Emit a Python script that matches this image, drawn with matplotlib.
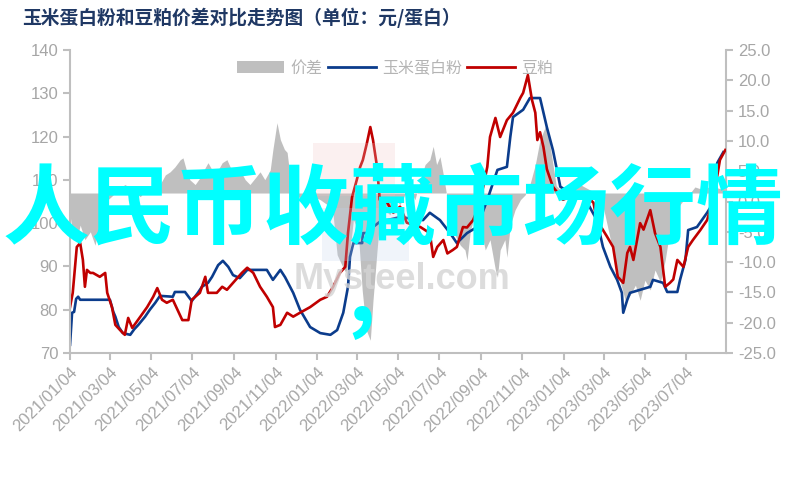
"""
玉米蛋白粉和豆粕价差对比走势图 — recreated with matplotlib.
Run: python plot.py
"""

import pandas as pd
import matplotlib.pyplot as plt
import matplotlib.dates as mdates
from matplotlib.patches import Patch, Rectangle
from matplotlib.lines import Line2D
from matplotlib.ticker import FormatStrFormatter, MultipleLocator

CJK = ["Noto Sans CJK SC", "DejaVu Sans"]
NUM = ["Liberation Sans Narrow", "Liberation Sans", "DejaVu Sans"]

plt.rcParams.update({
    "font.family": NUM,
    "axes.spines.top": False,
})

# 玉米蛋白粉 (left axis)
CORN_DATES = [
    "2021-01-04", "2021-01-07", "2021-01-10", "2021-01-13", "2021-01-16", "2021-01-19",
    "2021-03-04", "2021-03-09", "2021-03-12", "2021-03-17", "2021-03-23", "2021-04-03",
    "2021-04-09", "2021-04-15", "2021-04-25", "2021-05-02", "2021-05-10", "2021-05-17",
    "2021-06-05", "2021-06-08", "2021-06-23", "2021-07-03", "2021-07-12", "2021-07-18",
    "2021-07-27", "2021-08-02", "2021-08-11", "2021-08-18", "2021-08-26", "2021-09-02",
    "2021-09-12", "2021-09-23", "2021-10-22", "2021-10-31", "2021-11-11", "2021-11-18",
    "2021-11-30", "2021-12-10", "2021-12-25", "2022-01-09", "2022-01-24", "2022-02-03",
    "2022-02-12", "2022-02-19", "2022-02-22", "2022-02-27", "2022-03-12", "2022-03-13",
    "2022-03-24", "2022-03-28", "2022-04-07", "2022-05-07", "2022-06-10", "2022-06-20",
    "2022-07-05", "2022-07-20", "2022-07-30", "2022-08-14", "2022-08-29", "2022-09-13",
    "2022-09-28", "2022-10-12", "2022-10-17", "2022-10-21", "2022-11-05", "2022-11-15",
    "2022-11-30", "2022-12-10", "2022-12-19", "2022-12-30", "2023-01-14", "2023-01-28",
    "2023-02-08", "2023-02-22", "2023-03-03", "2023-03-14", "2023-03-24", "2023-03-31",
    "2023-04-02", "2023-04-08", "2023-04-12", "2023-05-12", "2023-05-16", "2023-05-31",
    "2023-06-06", "2023-06-21", "2023-06-25", "2023-07-03", "2023-07-07", "2023-07-20",
    "2023-08-04", "2023-08-13", "2023-08-19", "2023-08-28",
]
CORN_PRICE = [
    71.9, 79.3, 79.5, 82.5, 83.0, 82.3,
    82.3, 79.5, 78.4, 76.0, 74.6, 74.2,
    75.5, 76.5, 78.4, 80.0, 81.6, 83.2,
    83.0, 84.1, 84.1, 82.0, 83.9, 85.3,
    86.2, 87.6, 90.3, 91.3, 89.9, 88.0,
    87.3, 89.2, 89.2, 86.9, 89.2, 87.5,
    83.9, 80.0, 76.0, 74.6, 74.2, 75.3,
    79.3, 85.3, 92.2, 95.4, 95.4, 97.7,
    97.7, 99.1, 100.3, 101.4, 100.7, 102.4,
    100.7, 97.7, 95.4, 97.7, 99.1, 105.4,
    112.3, 113.0, 119.9, 124.5, 126.2, 128.9,
    128.9, 122.2, 116.9, 108.4, 107.0, 107.0,
    104.7, 100.7, 94.5, 89.9, 86.9, 83.9,
    79.3, 82.3, 83.9, 85.3, 86.9, 86.2,
    84.1, 84.1, 86.9, 91.5, 98.4, 99.1,
    102.4, 104.7, 113.9, 116.4,
]

# 豆粕 (left axis)
MEAL_DATES = [
    "2021-01-04", "2021-01-08", "2021-01-14", "2021-01-19", "2021-01-23", "2021-01-26",
    "2021-01-29", "2021-02-03", "2021-02-07", "2021-02-17", "2021-02-25", "2021-02-28",
    "2021-03-07", "2021-03-12", "2021-03-19", "2021-03-26", "2021-03-31", "2021-04-06",
    "2021-04-18", "2021-04-28", "2021-05-07", "2021-05-13", "2021-05-20", "2021-05-27",
    "2021-06-05", "2021-06-19", "2021-06-28", "2021-07-03", "2021-07-15", "2021-07-23",
    "2021-07-27", "2021-08-09", "2021-08-17", "2021-08-24", "2021-09-02", "2021-09-15",
    "2021-09-23", "2021-10-02", "2021-10-12", "2021-10-22", "2021-10-31", "2021-11-03",
    "2021-11-11", "2021-11-21", "2021-11-30", "2021-12-10", "2021-12-25", "2022-01-09",
    "2022-01-19", "2022-01-28", "2022-02-07", "2022-02-15", "2022-02-19", "2022-02-25",
    "2022-03-04", "2022-03-09", "2022-03-13", "2022-03-19", "2022-03-24", "2022-03-28",
    "2022-04-03", "2022-04-07", "2022-04-18", "2022-04-27", "2022-05-07", "2022-05-17",
    "2022-06-06", "2022-06-20", "2022-06-25", "2022-07-01", "2022-07-10", "2022-07-16",
    "2022-07-24", "2022-07-30", "2022-08-08", "2022-08-14", "2022-08-23", "2022-08-29",
    "2022-09-07", "2022-09-13", "2022-09-17", "2022-09-25", "2022-10-02", "2022-10-12",
    "2022-10-21", "2022-11-01", "2022-11-05", "2022-11-12", "2022-11-18", "2022-11-23",
    "2022-11-26", "2022-11-30", "2022-12-05", "2022-12-10", "2022-12-19", "2023-01-03",
    "2023-01-18", "2023-02-02", "2023-02-17", "2023-02-22", "2023-03-09", "2023-03-18",
    "2023-03-25", "2023-04-02", "2023-04-08", "2023-04-12", "2023-04-17", "2023-04-27",
    "2023-05-02", "2023-05-12", "2023-05-19", "2023-05-27", "2023-06-03", "2023-06-10",
    "2023-06-15", "2023-06-21", "2023-06-30", "2023-07-07", "2023-07-14", "2023-07-25",
    "2023-08-04", "2023-08-13", "2023-08-23", "2023-08-31",
]
MEAL_PRICE = [
    80.6, 83.9, 94.5, 95.4, 91.5, 85.3,
    89.2, 88.5, 88.5, 87.6, 88.5, 83.9,
    80.6, 76.5, 75.3, 74.2, 78.1, 75.8,
    78.4, 80.6, 83.0, 85.0, 82.3, 81.6,
    82.3, 77.6, 77.6, 82.3, 83.9, 87.6,
    83.9, 83.9, 85.3, 84.6, 86.2, 88.5,
    89.7, 88.5, 85.3, 83.0, 80.6, 76.0,
    76.5, 79.3, 78.4, 79.3, 80.6, 82.3,
    83.0, 85.3, 88.5, 89.9, 97.7, 106.0,
    110.0, 113.0, 114.6, 118.5, 122.2, 119.2,
    113.0, 105.4, 104.7, 102.4, 103.8, 100.1,
    99.1, 97.7, 92.2, 94.5, 96.1, 93.0,
    93.8, 94.5, 99.1, 99.0, 100.7, 103.0,
    108.4, 113.0, 119.9, 124.3, 119.9, 123.8,
    125.5, 129.0, 130.1, 134.2, 128.5, 125.5,
    119.2, 121.0, 117.6, 112.5, 108.4, 105.4,
    106.5, 107.0, 104.7, 100.7, 96.9, 94.5,
    87.6, 86.2, 93.1, 94.5, 91.5, 100.0,
    98.5, 103.0, 97.7, 94.5, 85.3, 86.2,
    87.0, 91.5, 89.9, 94.5, 96.1, 98.4,
    100.7, 105.4, 114.6, 116.9,
]

# 价差 (right axis)
SPREAD_DATES = [
    "2021-01-04", "2021-01-08", "2021-01-14", "2021-01-19", "2021-01-26", "2021-02-03",
    "2021-02-10", "2021-02-17", "2021-02-25", "2021-03-01", "2021-03-07", "2021-03-16",
    "2021-03-26", "2021-04-03", "2021-04-10", "2021-04-18", "2021-04-25", "2021-05-02",
    "2021-05-10", "2021-05-17", "2021-05-25", "2021-06-01", "2021-06-08", "2021-06-16",
    "2021-06-20", "2021-06-25", "2021-06-30", "2021-07-08", "2021-07-15", "2021-07-23",
    "2021-07-27", "2021-08-02", "2021-08-11", "2021-08-17", "2021-08-24", "2021-09-01",
    "2021-09-08", "2021-09-12", "2021-09-20", "2021-09-27", "2021-10-05", "2021-10-12",
    "2021-10-19", "2021-10-27", "2021-10-31", "2021-11-06", "2021-11-11", "2021-11-17",
    "2021-11-21", "2021-11-25", "2021-11-30", "2021-12-10", "2021-12-25", "2022-01-09",
    "2022-01-19", "2022-01-28", "2022-02-03", "2022-02-10", "2022-02-16", "2022-02-22",
    "2022-02-27", "2022-03-06", "2022-03-12", "2022-03-18", "2022-03-24", "2022-03-28",
    "2022-04-03", "2022-04-07", "2022-04-15", "2022-04-22", "2022-04-30", "2022-05-07",
    "2022-05-14", "2022-05-22", "2022-05-29", "2022-06-06", "2022-06-13", "2022-06-20",
    "2022-06-25", "2022-06-30", "2022-07-05", "2022-07-10", "2022-07-16", "2022-07-20",
    "2022-07-27", "2022-08-04", "2022-08-11", "2022-08-14", "2022-08-19", "2022-08-26",
    "2022-09-02", "2022-09-10", "2022-09-17", "2022-09-25", "2022-09-28", "2022-10-02",
    "2022-10-09", "2022-10-12", "2022-10-17", "2022-10-24", "2022-11-01", "2022-11-08",
    "2022-11-15", "2022-11-23", "2022-11-30", "2022-12-08", "2022-12-12", "2022-12-18",
    "2022-12-24", "2022-12-30", "2023-01-14", "2023-01-28", "2023-02-12", "2023-02-27",
    "2023-03-06", "2023-03-14", "2023-03-21", "2023-03-28", "2023-04-05", "2023-04-12",
    "2023-04-20", "2023-04-27", "2023-05-04", "2023-05-12", "2023-05-19", "2023-05-27",
    "2023-06-03", "2023-06-10", "2023-06-18", "2023-06-25", "2023-07-03", "2023-07-10",
    "2023-07-17", "2023-07-25", "2023-08-01", "2023-08-09", "2023-08-16", "2023-08-23",
    "2023-08-31",
]
SPREAD = [
    -2.2, -5.5, -6.3, -3.9, -6.3, -5.0,
    -7.2, -3.4, -2.2, 0.3, 0.9, 1.9,
    2.8, 2.3, 1.4, 0.8, 1.9, 2.3,
    1.6, 2.8, 4.4, 4.9, 5.7, 6.9,
    7.2, 5.2, 3.6, 2.8, 3.9, 5.6,
    6.4, 5.2, 5.2, 6.4, 6.9, 4.9,
    4.4, 5.2, 3.6, 2.8, 3.9, 4.9,
    3.6, 5.2, 8.6, 13.0, 10.2, 8.6,
    8.1, 4.4, 1.4, 0.6, 1.1, 0.3,
    -0.5, -2.2, -8.8, -10.5, -11.8, -8.0,
    -3.0, -4.7, -14.6, -21.2, -22.9, -16.3,
    -8.0, -3.0, -1.4, -2.2, 0.3, -0.5,
    1.1, 1.9, 0.3, 3.6, 6.1, 6.9,
    9.1, 6.1, 7.4, 4.4, 0.3, -3.0,
    -5.5, -7.2, -8.0, -9.7, -4.7, -2.2,
    -3.9, -8.0, -6.3, -11.3, -12.5, -8.0,
    -6.3, -9.2, -3.9, -1.4, 0.3, 1.1,
    2.8, 6.1, 10.2, 12.4, 11.0, 6.9,
    2.6, 1.9, 2.3, 2.8, 1.9, 1.1,
    -2.2, -6.3, -9.7, -13.0, -16.3, -15.5,
    -13.8, -16.3, -13.0, -14.6, -11.3, -13.3,
    -9.7, -4.7, -2.2, -0.5, 0.6, 1.4,
    2.4, 2.1, 2.6, 2.1, 2.4, 2.1,
    2.8,
]
SPREAD_FLOOR = 1.4  # area is filled from here, as in the source chart

X_START, X_END = "2021-01-04", "2023-09-01"

AXIS_GREY = "#bfbfbf"
LABEL_GREY = "#a6a6a6"
BLUE = "#0b3c8c"
RED = "#c00000"
AREA = "#bfbfbf"

fig = plt.figure(figsize=(7.86, 4.78), dpi=100)
ax = fig.add_axes([0.0891, 0.2615, 0.8346, 0.6339])
ax2 = ax.twinx()
ax.set_zorder(ax2.get_zorder() + 1)
ax.patch.set_visible(False)

spread_x = pd.to_datetime(SPREAD_DATES)
ax2.fill_between(spread_x, SPREAD, SPREAD_FLOOR, color=AREA, linewidth=0)
ax.plot(pd.to_datetime(CORN_DATES), CORN_PRICE, color=BLUE, linewidth=1.9)
ax.plot(pd.to_datetime(MEAL_DATES), MEAL_PRICE, color=RED, linewidth=1.9)

ax.set_xlim(pd.Timestamp(X_START), pd.Timestamp(X_END))
ax.set_ylim(70, 140)
ax2.set_ylim(-25, 25)
ax.yaxis.set_major_locator(MultipleLocator(10))
ax2.yaxis.set_major_locator(MultipleLocator(5))
ax2.yaxis.set_major_formatter(FormatStrFormatter("%.1f"))
ax.xaxis.set_major_locator(mdates.MonthLocator(bymonth=[1, 3, 5, 7, 9, 11], bymonthday=4))
ax.xaxis.set_major_formatter(mdates.DateFormatter("%Y/%m/%d"))
# last label in the source is 2023/07/04
ax.set_xticks([t for t in ax.get_xticks() if t <= mdates.date2num(pd.Timestamp("2023-07-04"))])

for a in (ax, ax2):
    for side in ("left", "right", "bottom"):
        a.spines[side].set_color(AXIS_GREY)
        a.spines[side].set_linewidth(1.5)
    a.spines["top"].set_visible(False)
    a.tick_params(colors=AXIS_GREY, labelcolor=LABEL_GREY, width=1.5, length=5,
                  labelsize=12, direction="out")
ax.spines["right"].set_visible(False)
ax2.spines["left"].set_visible(False)
ax2.spines["bottom"].set_visible(False)

for lbl in ax.get_xticklabels():
    lbl.set_rotation(45)
    lbl.set_ha("right")
    lbl.set_rotation_mode("anchor")

handles = [
    Patch(facecolor=AREA, edgecolor="none"),
    Line2D([], [], color=BLUE, linewidth=2),
    Line2D([], [], color=RED, linewidth=2),
]
leg = ax.legend(handles, ["价差", "玉米蛋白粉", "豆粕"], loc="center",
                bbox_to_anchor=(0.495, 0.94), ncol=3, frameon=False,
                handlelength=3.0, handleheight=0.7, handletextpad=0.4,
                columnspacing=0.3, prop={"family": CJK, "size": 11.5})
for t in leg.get_texts():
    t.set_color("#b4b4b4")

fig.text(0.028, 0.962, "玉米蛋白粉和豆粕价差对比走势图（单位：元/蛋白）",
         family=CJK, fontsize=13.5, fontweight="bold", color="#1f3864",
         ha="left", va="center")

# Mysteel watermark
fig.patches.append(Rectangle((0.398, 0.59), 0.105, 0.11, transform=fig.transFigure,
                             facecolor="#f2c4c4", alpha=0.25, edgecolor="none", zorder=4))
fig.patches.append(Rectangle((0.41, 0.455), 0.11, 0.11, transform=fig.transFigure,
                             facecolor="#c4d4ec", alpha=0.25, edgecolor="none", zorder=4))
fig.text(0.373, 0.395, "Mysteel.com", family=NUM, fontsize=26, fontweight="bold",
         color="#d4d4d4", alpha=0.8, ha="left", va="baseline", zorder=5)

# overlay caption
fig.text(0.5, 0.556, "人民币收藏市场行情", family=CJK, fontsize=62.5, fontweight="bold",
         color="#00ffff", ha="center", va="center", zorder=10)
fig.text(0.442, 0.33, ",", family=CJK, fontsize=62.5, fontweight="bold",
         color="#00ffff", ha="left", va="baseline", zorder=10)

fig.savefig("out.png", dpi=100)
